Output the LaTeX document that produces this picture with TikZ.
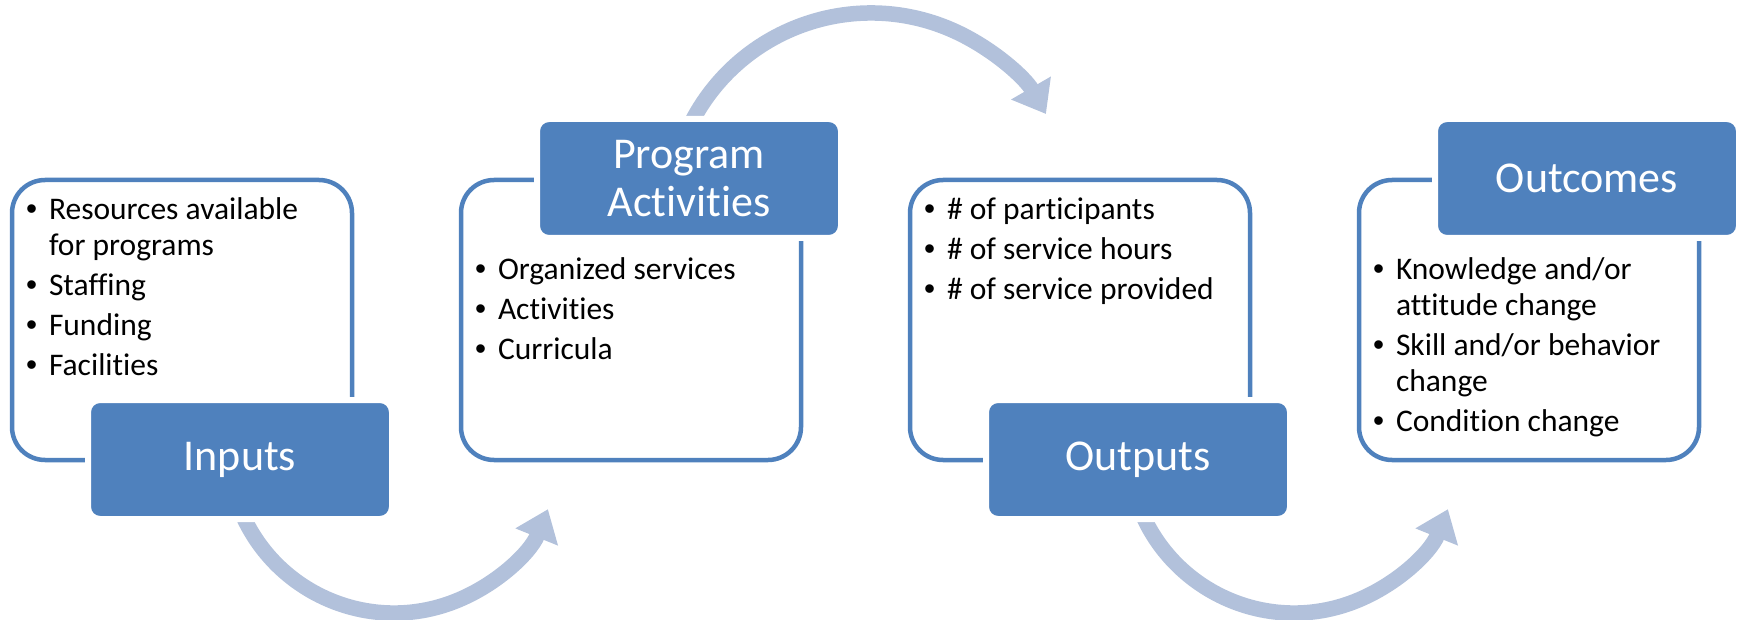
\documentclass[tikz,border=0pt]{standalone}
\usepackage{fontspec}
\setmainfont{Carlito}[Ligatures=NoCommon]
\newfontfamily\bulletfont{Liberation Sans}
\usetikzlibrary{positioning, arrows.meta}
\definecolor{boxblue}{HTML}{4F81BD}
\definecolor{flowblue}{HTML}{B2C1DB}
\tikzset{
  panel/.style = {rectangle, rounded corners=33pt, draw=boxblue, line width=4.5pt, fill=white, minimum width=340pt, minimum height=280pt, inner sep=0pt, outer sep=0pt},
  heading/.style = {rectangle, rounded corners=12pt, fill=boxblue, draw=white, line width=6pt, minimum width=304pt, minimum height=119pt, inner sep=0pt, outer sep=0pt, text=white, align=center, font=\fontsize{44}{48}\selectfont},
  items/.style = {anchor=north west, text width=320pt, align=flush left, inner sep=0pt, outer sep=0pt, font=\fontsize{31.5}{36}\selectfont, execute at begin node={\setlength{\parskip}{4pt}}},
  flow/.style = {draw=flowblue, line width=15.5pt, -{Triangle[width=44pt,length=30pt]}}
}
\newcommand{\itm}[1]{\par\noindent\hangindent=23pt\hangafter=1\makebox[23pt][l]{\bulletfont\textbullet}\strut#1}

\begin{document}
\begin{tikzpicture}[x=1pt, y=-1pt, node distance=109pt]
    \useasboundingbox (0,0) rectangle (1739,620);

    % curved arrows (drawn first, boxes go over them)
    \coordinate (c1) at (394,447);
    \coordinate (c2) at (871,215);
    \coordinate (c3) at (1294,447);
    \draw [flow] ([shift={(160:166)}]c1) arc[start angle=160, end angle=22, radius=166];
    \draw [flow] ([shift={(205:202)}]c2) arc[start angle=205, end angle=330, radius=202];
    \draw [flow] ([shift={(160:166)}]c3) arc[start angle=160, end angle=22, radius=166];

    % panels
    \node (inpanel) [panel] at (182,320) {};
    \node (actpanel) [panel, right=of inpanel] {};
    \node (outpanel) [panel, right=of actpanel] {};
    \node (respanel) [panel, right=of outpanel] {};

    % headings
    \node (inhead) [heading, below right=220pt and 76pt of inpanel.north west] {Inputs};
    \node (acthead) [heading, below right=-61pt and 76pt of actpanel.north west] {Program\\Activities};
    \node (outhead) [heading, below right=220pt and 76pt of outpanel.north west] {Outputs};
    \node (reshead) [heading, below right=-61pt and 76pt of respanel.north west] {Outcomes};

    % lists
    \node (inlist) [items, below right=0pt and 14pt of inpanel.north west]
      {\itm{Resources available\newline for programs}\itm{Staffing}\itm{Funding}\itm{Facilities}};
    \node (actlist) [items, below right=60pt and 14pt of actpanel.north west]
      {\itm{Organized services}\itm{Activities}\itm{Curricula}};
    \node (outlist) [items, below right=0pt and 14pt of outpanel.north west]
      {\itm{\# of participants}\itm{\# of service hours}\itm{\# of service provided}};
    \node (reslist) [items, below right=60pt and 14pt of respanel.north west]
      {\itm{Knowledge and/or\newline attitude change}\itm{Skill and/or behavior\newline change}\itm{Condition change}};

\end{tikzpicture}
\end{document}
